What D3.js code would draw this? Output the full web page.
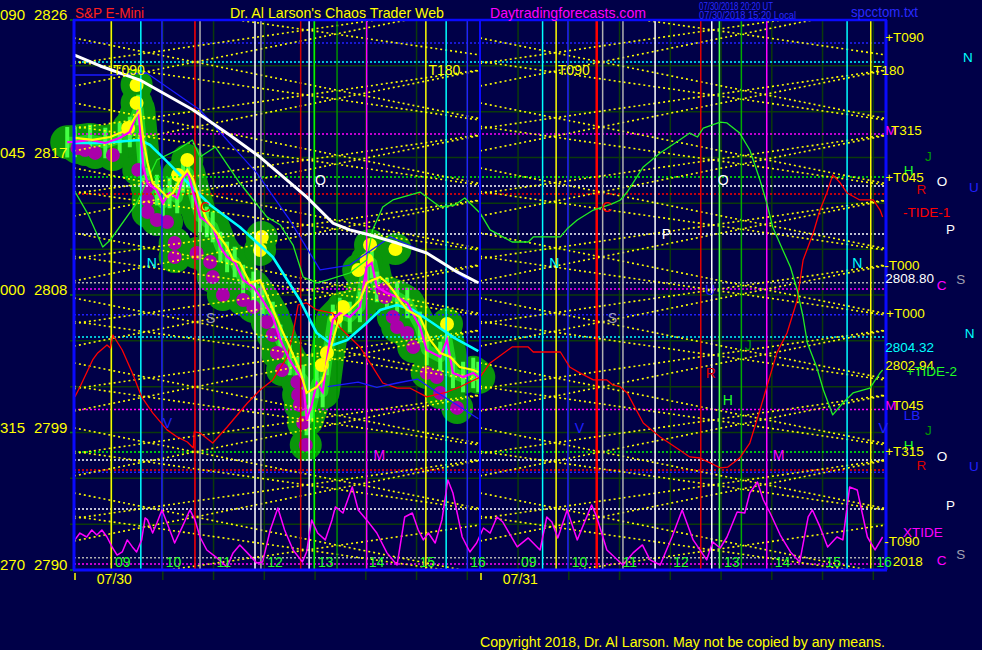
<!DOCTYPE html>
<html><head><meta charset="utf-8">
<script src="https://cdn.jsdelivr.net/npm/d3@7"></script>
<style>
html,body{margin:0;padding:0;background:#000048;}
svg{display:block;}
text{font-family:"Liberation Sans",Arial,sans-serif;}
</style></head><body>
<svg id="c" width="982" height="650"></svg>
<script>
// ---------- DATA (time = minutes from 08:15 on 07/30; day 2 starts at 480) ----------
const dayStarts = [0, 480];
const dayLabels = ["07/30", "07/31"];
const hourLabels = ["09","10","11","12","13","14","15","16"];
const hourValues = [9,10,11,12,13,14,15,16];
const axisPrices = [2826, 2817, 2808, 2799, 2790];
const axisAngles = ["090", "045", "000", "315", "270"];
const gridPrices = [2793,2796,2799,2802,2805,2808,2811,2814,2817,2820,2823];

// price (magenta) path
const price = [[-8,2818.0],[1,2818.02],[19,2818.15],[37,2817.95],[54,2818.28],[66,2818.67],[76,2820.11],[80,2817.69],[82,2816.38],[87,2815.33],[98,2814.87],[105,2814.02],[113,2814.68],[122,2814.35],[129,2815.72],[135,2815.99],[141,2814.68],[149,2813.11],[157,2812.78],[164,2812.45],[173,2811.14],[181,2810.49],[190,2810.16],[200,2808.98],[212,2808.53],[223,2807.67],[235,2806.56],[244,2805.06],[255,2803.75],[264,2802.96],[271,2802.44],[275,2799.82],[281,2800.80],[287,2802.24],[294,2801.65],[299,2803.75],[306,2806.37],[314,2806.82],[326,2806.56],[338,2807.22],[346,2809.83],[352,2810.10],[358,2808.53],[370,2808.13],[382,2807.87],[394,2807.48],[409,2805.91],[417,2804.40],[433,2803.94],[441,2805.06],[448,2802.90],[460,2802.63],[472,2802.90],[478,2802.63]];
// fast average (yellow)
const fastAvg = [[1,2818.28],[22,2818.15],[43,2818.34],[63,2818.80],[72,2819.65],[78,2820.11],[82,2818.15],[87,2816.64],[93,2815.33],[102,2814.87],[110,2814.42],[117,2814.68],[125,2815.53],[134,2816.18],[141,2815.53],[149,2814.02],[157,2812.91],[169,2812.06],[181,2811.14],[188,2810.29],[196,2810.10],[208,2808.79],[220,2808.98],[232,2807.48],[244,2805.91],[255,2804.60],[267,2803.09],[275,2801.59],[287,2801.98],[294,2802.44],[306,2805.06],[314,2806.56],[326,2807.02],[338,2807.67],[346,2808.79],[353,2808.98],[362,2809.18],[370,2808.79],[377,2808.33],[385,2807.67],[394,2807.02],[409,2806.56],[421,2805.06],[433,2804.20],[445,2803.94],[456,2803.29],[472,2803.09],[478,2802.94]];
const highDots = [[74,2821.75],[74,2820.57],[64,2818.93],[134,2816.84],[123,2815.86],[222,2811.80],[220,2810.95],[350,2811.27],[346,2810.29],[336,2809.64],[318,2807.22],[310,2806.50],[299,2804.21],[293,2803.42],[380,2811.01],[441,2806.10]];
const lowDots = [[4,2817.62],[13,2817.49],[25,2817.30],[46,2817.16],[76,2816.18],[86,2815.07],[87,2814.22],[87,2813.43],[98,2812.91],[110,2812.78],[119,2811.40],[119,2810.49],[145,2810.75],[161,2810.16],[164,2809.18],[176,2808.00],[200,2807.67],[212,2807.22],[228,2806.23],[235,2805.38],[240,2804.21],[246,2803.09],[264,2802.31],[265,2801.46],[267,2800.80],[271,2799.62],[274,2798.18],[365,2808.33],[368,2807.87],[377,2806.56],[382,2805.91],[394,2805.51],[401,2804.60],[417,2802.90],[429,2802.63],[433,2801.59],[453,2800.61]];
// slow average (white) and mid average (cyan)
const slowAvg = [[0,2823.71],[31,2822.99],[78,2822.07],[141,2820.11],[184,2818.47],[220,2817.03],[275,2814.42],[306,2812.71],[326,2812.26],[350,2811.93],[382,2811.40],[417,2810.75],[453,2809.51],[478,2808.80]];
const midAvg = [[0,2817.95],[31,2817.95],[78,2818.15],[90,2817.82],[108,2816.84],[137,2815.20],[161,2813.89],[196,2812.45],[235,2810.49],[267,2807.67],[287,2805.51],[306,2804.73],[323,2805.06],[346,2806.17],[362,2807.02],[382,2807.35],[401,2807.02],[424,2806.17],[448,2805.25],[478,2804.32]];
// blue lines
const blueUpper = [[0,2822.4],[43,2822.4],[86,2822.53],[149,2820.11],[216,2815.99],[255,2812.91],[291,2809.64],[326,2809.96],[374,2811.8],[417,2810.75],[465,2809.0]];
const blueLow = [[300,2802.0],[336,2802.3],[358,2801.95],[382,2802.24],[406,2802.5],[430,2801.6],[453,2800.8],[478,2799.9]];
// TIDE-1 (red) and TIDE-2 (green)
const tide1 = [[1,2801.33],[7,2801.98],[22,2803.75],[28,2804.21],[39,2804.73],[43,2804.53],[46,2805.38],[57,2804.40],[69,2802.90],[80,2801.33],[93,2800.28],[110,2799.17],[122,2798.71],[134,2798.38],[141,2797.99],[142,2799.04],[149,2798.97],[164,2798.31],[181,2799.36],[205,2800.93],[220,2801.78],[235,2802.44],[252,2803.94],[259,2805.51],[265,2807.35],[275,2807.48],[287,2807.02],[306,2806.82],[314,2805.91],[338,2804.60],[353,2803.29],[365,2802.24],[382,2801.91],[397,2801.91],[417,2801.33],[441,2801.65],[456,2801.98],[480,2802.63],[492,2803.55],[518,2804.60],[537,2804.60],[543,2804.27],[575,2804.27],[586,2803.29],[598,2802.90],[614,2802.44],[630,2802.44],[637,2802.11],[646,2801.98],[654,2801.59],[673,2799.62],[693,2798.71],[716,2797.86],[728,2797.40],[740,2797.33],[752,2797.01],[764,2796.68],[773,2796.74],[787,2797.33],[799,2798.31],[811,2800.47],[819,2801.98],[831,2804.21],[843,2805.51],[855,2807.67],[862,2810.29],[874,2812.06],[882,2813.56],[890,2814.68],[897,2815.86],[906,2815.33],[914,2814.68],[929,2814.22],[945,2814.22],[953,2813.56],[956,2813.11]];
const tide2 = [[0,2814.87],[17,2813.24],[34,2811.14],[43,2811.60],[74,2814.02],[98,2816.84],[122,2817.49],[140,2818.15],[149,2817.03],[167,2817.69],[196,2815.33],[228,2813.11],[244,2812.58],[259,2811.27],[271,2809.18],[287,2808.79],[299,2808.98],[326,2809.44],[346,2810.29],[353,2812.26],[365,2813.76],[377,2814.22],[409,2814.74],[433,2813.76],[450,2813.89],[462,2814.35],[480,2813.37],[492,2812.26],[518,2811.47],[537,2811.47],[543,2811.80],[575,2811.80],[584,2812.39],[595,2812.91],[614,2813.56],[636,2813.96],[646,2814.22],[654,2814.74],[673,2816.38],[693,2817.30],[716,2818.15],[728,2818.60],[737,2818.34],[744,2818.93],[764,2819.32],[772,2819.26],[787,2818.60],[799,2817.49],[811,2815.53],[819,2814.02],[826,2812.45],[838,2810.95],[847,2809.83],[855,2808.33],[862,2806.56],[867,2804.86],[878,2803.29],[886,2801.78],[897,2800.15],[909,2800.93],[921,2801.59],[941,2801.91],[953,2802.90],[956,2803.09]];
// XTIDE oscillator (drawn in price units of the bottom band)
const xtide = [[1,2791.97],[7,2792.42],[15,2792.16],[21,2792.62],[27,2792.29],[33,2792.62],[39,2792.16],[45,2791.51],[51,2790.98],[57,2791.18],[63,2791.97],[69,2791.51],[74,2791.18],[80,2791.97],[84,2793.41],[87,2793.28],[93,2792.42],[98,2793.08],[104,2793.93],[110,2793.08],[119,2791.77],[128,2792.82],[137,2793.93],[143,2793.28],[149,2792.16],[157,2791.31],[169,2790.79],[181,2790.20],[188,2791.12],[196,2791.64],[205,2791.12],[216,2790.46],[223,2790.53],[232,2792.62],[241,2794.06],[249,2792.62],[259,2791.31],[270,2790.53],[275,2791.18],[281,2793.28],[288,2792.42],[297,2791.97],[305,2793.28],[309,2794.13],[318,2793.73],[329,2795.43],[336,2793.93],[346,2793.28],[358,2792.42],[370,2791.12],[382,2790.33],[391,2793.47],[400,2793.73],[407,2792.62],[413,2791.97],[419,2792.42],[427,2791.77],[435,2793.28],[442,2795.89],[448,2795.04],[459,2792.16],[468,2791.18],[476,2791.77],[484,2792.75],[492,2792.42],[500,2793.47],[507,2793.14],[524,2791.51],[537,2792.10],[551,2791.31],[559,2793.47],[565,2793.14],[572,2792.10],[583,2793.93],[595,2791.97],[612,2794.26],[618,2793.47],[630,2791.31],[649,2790.33],[661,2791.12],[672,2791.64],[681,2790.66],[693,2790.33],[707,2792.16],[719,2793.93],[732,2791.97],[748,2790.66],[755,2791.84],[764,2791.44],[772,2792.16],[784,2793.80],[793,2793.73],[799,2795.04],[808,2795.76],[815,2794.58],[823,2793.73],[835,2792.29],[847,2791.18],[858,2790.53],[868,2793.47],[873,2793.93],[882,2792.82],[891,2791.51],[902,2792.16],[909,2791.97],[917,2795.43],[926,2795.24],[938,2792.16],[947,2791.31],[956,2792.16]];
// vertical event lines [minute, colour]
const vLines = [[44,"#ffff00"],[79,"#00ffff"],[104,"#2020ff"],[143,"#ff0000"],[149,"#b0b0b0"],[214,"#ffffff"],[221,"#b0b0b0"],[268,"#d00000"],[278,"#ffffff"],[284,"#00ff00"],[311,"#009000"],[346,"#ff00ff"],[416,"#ffff00"],[440,"#00ffff"],[465,"#2020ff"],[554,"#00ffff"],[570,"#ffff00"],[584,"#2020ff"],[618,"#ff0000"],[625,"#b0b0b0"],[649,"#b0b0b0"],[687,"#ffffff"],[741,"#e00000"],[754,"#ffffff"],[763,"#44ff44"],[789,"#00aa00"],[819,"#ff00ff"],[914,"#00ffff"],[942,"#ffff00"]];
// horizontal dotted levels [price, colour]
const hLines = [[2824.5,"#2020ff"],[2823.25,"#00ffff"],[2818.54,"#ff00ff"],[2815.73,"#00ff00"],[2815.14,"#ffffff"],[2814.61,"#ff0000"],[2812.0,"#ffffff"],[2808.8,"#b0b0b0"],[2808.4,"#ff00ff"],[2806.7,"#2020ff"],[2805.25,"#00ffff"],[2800.5,"#ff00ff"],[2797.73,"#00ff00"],[2797.2,"#ffffff"],[2796.55,"#ff0000"],[2796.4,"#2020ff"],[2794.0,"#ffffff"],[2790.8,"#b0b0b0"],[2790.4,"#ff00ff"]];
// T-line crossings (minute of day, prices, slope in points/minute)
const tCrossMinutes = [143, 275];
const tCrossPrices = [[2823.25,2819.00,2814.74,2810.49,2806.23,2801.98,2797.73,2793.47],[2825.35,2821.09,2816.84,2812.58,2808.33,2804.07,2799.82,2795.57,2791.31]];
const tSlopes = [0.011, 0.008];
// annotations [text, minute, price, colour]
const plotNotes = [["T090",46,2822.73,"#ffff00"],["T180",419,2822.73,"#ffff00"],["T090",572,2822.73,"#ffff00"],["N",86,2810.10,"#00ffff"],["S",156,2806.50,"#a0a0b0"],["O",285,2815.53,"#ffffff"],["M",354,2797.53,"#ff00ff"],["C",149,2813.76,"#ff0000"],["N",562,2810.10,"#00ffff"],["S",631,2806.50,"#a0a0b0"],["P",695,2811.99,"#ffffff"],["O",761,2815.53,"#ffffff"],["C",624,2813.76,"#ff0000"],["U",746,2808.33,"#2020ff"],["R",747,2802.90,"#dd0000"],["J",793,2804.73,"#009900"],["H",767,2801.13,"#22ff22"],["M",826,2797.53,"#ff00ff"],["N",920,2810.10,"#00ffff"],["V",592,2799.30,"#2020ff"],["V",105,2799.62,"#2020ff"],["V",951,2799.30,"#2020ff"]];
const sideNotes = [["+T090",959,2824.89,"#ffff00"],["N",1051,2823.58,"#00ffff"],["T180",945,2822.73,"#ffff00"],["M",959,2818.80,"#ff00ff"],["T315",966,2818.80,"#ffff00"],["J",1006,2817.10,"#009900"],["H",981,2816.18,"#22ff22"],["+T045",959,2815.72,"#ffff00"],["O",1020,2815.46,"#ffffff"],["R",996,2814.94,"#dd0000"],["U",1058,2815.07,"#2020ff"],["-TIDE-1",980,2813.43,"#ff0000"],["P",1031,2812.32,"#ffffff"],["-T000",958,2809.93,"#ffff00"],["2808.80",959,2809.10,"#ffffff"],["C",1020,2808.66,"#ff00ff"],["S",1043,2809.05,"#a0a0b0"],["+T000",960,2806.82,"#ffff00"],["N",1053,2805.51,"#00ffff"],["2804.32",959,2804.60,"#00ffff"],["2802.94",959,2803.40,"#ffff00"],["+TIDE-2",984,2803.00,"#22ff22"],["M",959,2800.80,"#ff00ff"],["T045",968,2800.80,"#ffff00"],["LB",981,2800.15,"#2020ff"],["J",1006,2799.17,"#009900"],["H",981,2798.18,"#22ff22"],["+T315",959,2797.79,"#ffff00"],["O",1020,2797.46,"#ffffff"],["R",996,2796.87,"#dd0000"],["U",1058,2796.81,"#2020ff"],["P",1031,2794.26,"#ffffff"],["XTIDE",980,2792.49,"#ff00ff"],["-T090",958,2791.90,"#ffff00"],["2018",968,2790.59,"#ffff00"],["S",1043,2791.05,"#a0a0b0"],["C",1020,2790.66,"#ff00ff"]];

// ---------- DRAWING ----------
const svg = d3.select("#c");
const x = d3.scaleLinear().domain([0, 960]).range([74, 886]);
const y = d3.scaleLinear().domain([2790, 2826]).range([570, 20]);
const ln = d3.line().x(d => x(d[0])).y(d => y(d[1]));
const hourMin = (h, d) => d + (h - 8.25) * 60;

svg.append("rect").attr("width", 982).attr("height", 650).attr("fill", "#000048");
svg.append("defs").append("clipPath").attr("id", "plot")
  .append("rect").attr("x", x(0)).attr("y", y(2826)).attr("width", x(960) - x(0)).attr("height", y(2790) - y(2826));

// grid
const grid = svg.append("g").attr("stroke", "#0b3a0b").attr("stroke-width", 1.5);
gridPrices.forEach(p => grid.append("line").attr("x1", x(0) - 4).attr("x2", x(960)).attr("y1", y(p)).attr("y2", y(p)));
axisPrices.forEach(p => grid.append("line").attr("x1", x(0) - 4).attr("x2", x(0)).attr("y1", y(p)).attr("y2", y(p)).attr("stroke", "#0a7a0a"));
dayStarts.forEach(d => hourValues.forEach(h => grid.append("line")
  .attr("x1", x(hourMin(h, d))).attr("x2", x(hourMin(h, d))).attr("y1", y(2826)).attr("y2", y(2790) + 10)));

// price envelope (blob)
const blob = svg.append("g");
blob.append("path").datum(price).attr("d", ln).attr("fill", "none").attr("stroke", "#0a960a")
  .attr("stroke-width", 34).attr("stroke-linejoin", "round").attr("stroke-linecap", "round");
blob.selectAll("circle.bg").data(highDots.concat(lowDots)).enter().append("circle")
  .attr("cx", d => x(d[0])).attr("cy", d => y(d[1])).attr("r", 16).attr("fill", "#0a960a");
blob.append("path").datum(price).attr("d", ln).attr("fill", "none").attr("stroke", "#1ed21e")
  .attr("stroke-width", 11).attr("stroke-linejoin", "round");
blob.selectAll("line.bar").data(price).enter().append("line")
  .attr("x1", d => x(d[0])).attr("x2", d => x(d[0])).attr("y1", d => y(d[1] + 1.0)).attr("y2", d => y(d[1] - 1.0))
  .attr("stroke", "#44ff44").attr("stroke-width", 4);
blob.selectAll("circle.lo").data(lowDots).enter().append("circle")
  .attr("cx", d => x(d[0])).attr("cy", d => y(d[1])).attr("r", 7).attr("fill", "#aa00aa");
blob.selectAll("circle.hi").data(highDots).enter().append("circle")
  .attr("cx", d => x(d[0])).attr("cy", d => y(d[1])).attr("r", 7).attr("fill", "#ffff00");

const clipped = svg.append("g").attr("clip-path", "url(#plot)");
// dotted horizontal levels
clipped.selectAll("line.h").data(hLines).enter().append("line")
  .attr("x1", x(0)).attr("x2", x(960)).attr("y1", d => y(d[0])).attr("y2", d => y(d[0]))
  .attr("stroke", d => d[1]).attr("stroke-width", 1.5).attr("stroke-dasharray", "2 2");
// yellow T-lines
const tLines = [];
dayStarts.forEach(d => tCrossMinutes.forEach((cm, k) => tCrossPrices[k].forEach(p => [1, -1].forEach(sg => {
  const s = sg * tSlopes[k];
  tLines.push([[d, p - s * cm], [d + 480, p + s * (480 - cm)]]);
}))));
clipped.selectAll("path.t").data(tLines).enter().append("path").attr("d", ln)
  .attr("fill", "none").attr("stroke", "#ffff00").attr("stroke-width", 1.6).attr("stroke-dasharray", "2 3");
// vertical event lines
clipped.selectAll("line.v").data(vLines).enter().append("line")
  .attr("x1", d => x(d[0])).attr("x2", d => x(d[0])).attr("y1", y(2826)).attr("y2", y(2790))
  .attr("stroke", d => d[1]).attr("stroke-width", d => d[0] === 618 ? 2.5 : 1.5);

// indicator lines
const addLine = (data, color, w) => clipped.append("path").datum(data).attr("d", ln)
  .attr("fill", "none").attr("stroke", color).attr("stroke-width", w).attr("stroke-linejoin", "round");
addLine(xtide, "#ff00ff", 1.5);
addLine(tide1, "#ff0000", 1.3);
addLine(tide2, "#22ee22", 1.3);
addLine(blueUpper, "#1a1aff", 1.3);
addLine(blueLow, "#1a1aff", 1.3);
svg.append("path").datum(price).attr("d", ln).attr("fill", "none").attr("stroke", "#ff00ff").attr("stroke-width", 2.2);
svg.append("path").datum(fastAvg).attr("d", ln).attr("fill", "none").attr("stroke", "#ffff00").attr("stroke-width", 2.2);
addLine(midAvg, "#00ffff", 2.6);
addLine(slowAvg, "#ffffff", 3);

// borders
const bd = svg.append("g").attr("stroke", "#0a0aff");
bd.append("line").attr("x1", x(0) - 1).attr("x2", x(960) + 1).attr("y1", y(2826)).attr("y2", y(2826)).attr("stroke-width", 2.5);
bd.append("line").attr("x1", x(0) - 1).attr("x2", x(960) + 1).attr("y1", y(2790)).attr("y2", y(2790)).attr("stroke-width", 3);
bd.append("line").attr("x1", x(0)).attr("x2", x(0)).attr("y1", y(2826)).attr("y2", y(2790)).attr("stroke-width", 3);
bd.append("line").attr("x1", x(960)).attr("x2", x(960)).attr("y1", y(2826)).attr("y2", y(2790)).attr("stroke-width", 3);
bd.append("line").attr("x1", x(480)).attr("x2", x(480)).attr("y1", y(2826)).attr("y2", y(2790)).attr("stroke-width", 2);
dayStarts.forEach(d => svg.append("line").attr("x1", x(d) + 1).attr("x2", x(d) + 1).attr("y1", y(2790) + 3).attr("y2", y(2790) + 10)
  .attr("stroke", "#ffff00").attr("stroke-width", 1.5));

// annotations
const note = (arr, size) => svg.selectAll(null).data(arr).enter().append("text")
  .attr("x", d => x(d[1])).attr("y", d => y(d[2])).attr("dy", "0.36em")
  .attr("fill", d => d[3]).attr("font-size", size).text(d => d[0]);
note(plotNotes, 14);
note(sideNotes, 13.5);

// axis labels
axisPrices.forEach((p, i) => {
  svg.append("text").attr("x", 0).attr("y", y(p)).attr("fill", "#ffff00").attr("font-size", 15).text(axisAngles[i]);
  svg.append("text").attr("x", 34).attr("y", y(p)).attr("fill", "#ffff00").attr("font-size", 15).text(p);
});
dayStarts.forEach((d, i) => {
  hourValues.forEach((h, j) => svg.append("text").attr("x", x(hourMin(h, d)) + 3).attr("y", y(2790) - 3)
    .attr("fill", "#22ff22").attr("font-size", 14).text(hourLabels[j]));
  svg.append("text").attr("x", x(d + 27)).attr("y", y(2790) + 14).attr("fill", "#ffff00").attr("font-size", 14).text(dayLabels[i]);
});

// titles
const title = (t, xx, yy, col, size, len) => {
  const e = svg.append("text").attr("x", xx).attr("y", yy).attr("fill", col).attr("font-size", size).text(t);
  if (len) e.attr("textLength", len).attr("lengthAdjust", "spacingAndGlyphs");
};
title("S&P E-Mini", 75, 18, "#ff2020", 15, 69);
title("Dr. Al Larson's Chaos Trader Web", 230, 18, "#ffff00", 15, 214);
title("Daytradingforecasts.com", 490, 18, "#ff00ff", 15, 156);
title("07/30/2018 20:20 UT", 699, 10, "#2a2aff", 10, 74);
title("07/30/2018 15:20 Local", 699, 19, "#2a2aff", 10, 97);
title("spcctom.txt", 851, 17, "#2a2aff", 15, 67);
title("Copyright 2018, Dr. Al Larson. May not be copied by any means.", 480, 647, "#ffff00", 14, 405);
</script>
</body></html>
